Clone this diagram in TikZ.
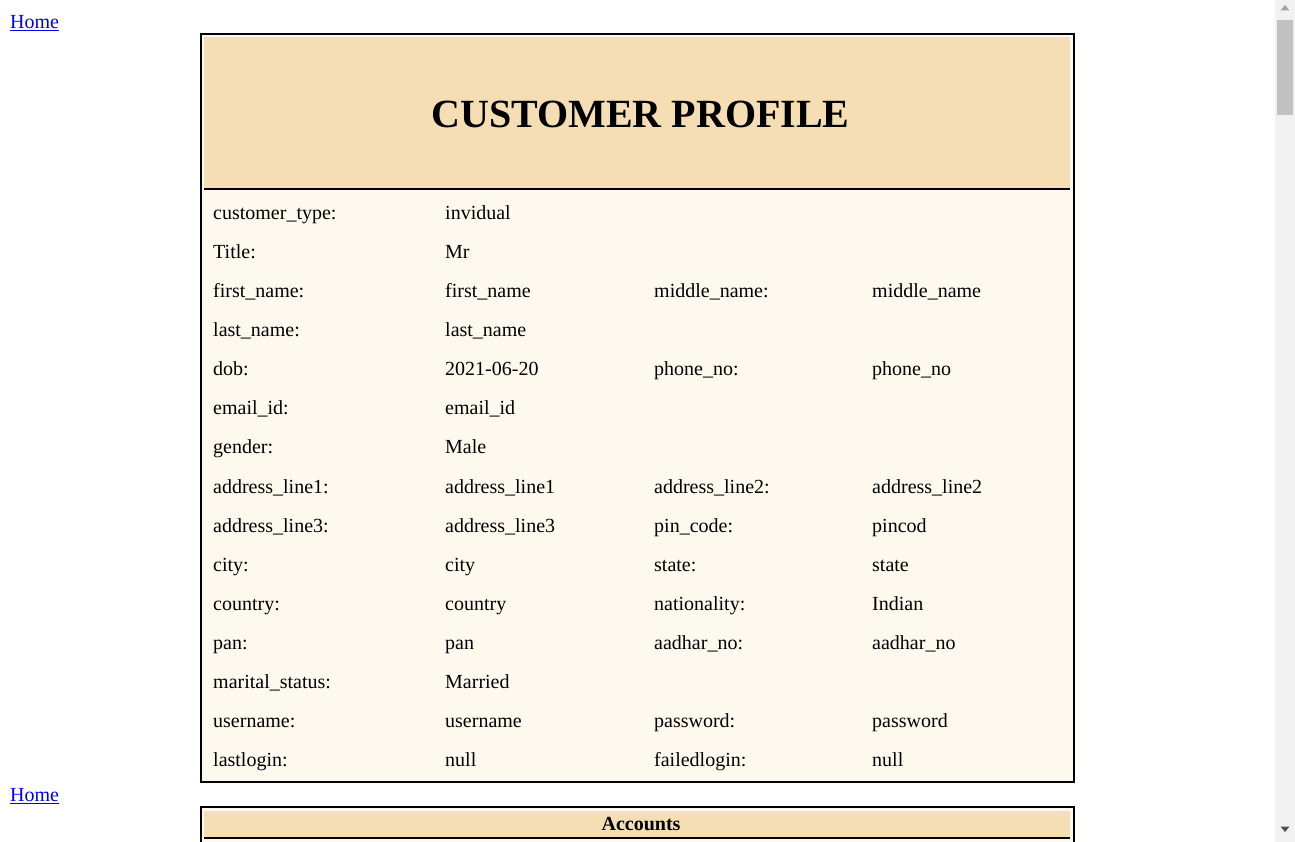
\documentclass[tikz,border=0pt]{standalone}
\usepackage{fontspec}
\setmainfont{Liberation Serif}
\definecolor{wheat}{HTML}{F5DEB3}
\definecolor{cream}{HTML}{FEF9EE}
\definecolor{linkblue}{HTML}{0000EE}
\definecolor{sbbg}{HTML}{F1F1F1}
\definecolor{sbthumb}{HTML}{C1C1C1}
\definecolor{sbarrowup}{HTML}{A3A3A3}
\definecolor{sbarrowdn}{HTML}{505050}
\tikzset{
  cell/.style={anchor=base west, inner sep=0pt, font=\fontsize{20}{24}\selectfont},
  link/.style={anchor=base west, inner sep=0pt, text=linkblue, font=\fontsize{20}{24}\selectfont},
  tblborder/.style={draw=black, line width=2pt},
  hdrline/.style={draw=black, line width=2pt},
}
\begin{document}
\begin{tikzpicture}[x=1pt,y=-1pt]
\useasboundingbox (0,0) rectangle (1295,842);
\fill[white] (0,0) rectangle (1295,842);
% scrollbar
\fill[sbbg] (1275,0) rectangle (1295,842);
\fill[sbthumb] (1277,20) rectangle (1293,115);
\fill[sbarrowup] (1285,5) -- (1289.5,10.5) -- (1280.5,10.5) -- cycle;
\fill[sbarrowdn] (1280.5,826.5) -- (1289.5,826.5) -- (1285,832) -- cycle;
% links
\node[link] (home1) at (10,28.5) {Home};
\draw[linkblue, line width=1.3pt] (home1.south west |- 0,30.5) -- (home1.south east |- 0,30.5);
\node[link] (home2) at (10,801.5) {Home};
\draw[linkblue, line width=1.3pt] (home2.south west |- 0,803.5) -- (home2.south east |- 0,803.5);
% main table
\fill[cream] (201,34) rectangle (1073.5,782);
\fill[wheat] (204,37.5) rectangle (1070,188.5);
\draw[hdrline] (204,189.5) -- (1070,189.5);
\draw[tblborder] (201,34) rectangle (1073.5,782);
\node[anchor=base, inner sep=0pt, font=\fontsize{40}{48}\selectfont\bfseries] (title) at (640.5,127.5) {CUSTOMER PROFILE};
% rows
\def\ca{213}\def\cb{445}\def\cc{654}\def\cd{872}
\node[cell] (l1) at (\ca,219.5) {customer\_type:};
\node[cell] (v1) at (\cb,219.5) {invidual};
\node[cell] (l2) at (\ca,258.5) {Title:};
\node[cell] (v2) at (\cb,258.5) {Mr};
\node[cell] (l3) at (\ca,297.5) {first\_name:};
\node[cell] (v3) at (\cb,297.5) {first\_name};
\node[cell] (l3b) at (\cc,297.5) {middle\_name:};
\node[cell] (v3b) at (\cd,297.5) {middle\_name};
\node[cell] (l4) at (\ca,336.5) {last\_name:};
\node[cell] (v4) at (\cb,336.5) {last\_name};
\node[cell] (l5) at (\ca,375.5) {dob:};
\node[cell] (v5) at (\cb,375.5) {2021-06-20};
\node[cell] (l5b) at (\cc,375.5) {phone\_no:};
\node[cell] (v5b) at (\cd,375.5) {phone\_no};
\node[cell] (l6) at (\ca,414.5) {email\_id:};
\node[cell] (v6) at (\cb,414.5) {email\_id};
\node[cell] (l7) at (\ca,453.5) {gender:};
\node[cell] (v7) at (\cb,453.5) {Male};
\node[cell] (l8) at (\ca,493) {address\_line1:};
\node[cell] (v8) at (\cb,493) {address\_line1};
\node[cell] (l8b) at (\cc,493) {address\_line2:};
\node[cell] (v8b) at (\cd,493) {address\_line2};
\node[cell] (l9) at (\ca,532) {address\_line3:};
\node[cell] (v9) at (\cb,532) {address\_line3};
\node[cell] (l9b) at (\cc,532) {pin\_code:};
\node[cell] (v9b) at (\cd,532) {pincod};
\node[cell] (l10) at (\ca,571) {city:};
\node[cell] (v10) at (\cb,571) {city};
\node[cell] (l10b) at (\cc,571) {state:};
\node[cell] (v10b) at (\cd,571) {state};
\node[cell] (l11) at (\ca,610) {country:};
\node[cell] (v11) at (\cb,610) {country};
\node[cell] (l11b) at (\cc,610) {nationality:};
\node[cell] (v11b) at (\cd,610) {Indian};
\node[cell] (l12) at (\ca,649) {pan:};
\node[cell] (v12) at (\cb,649) {pan};
\node[cell] (l12b) at (\cc,649) {aadhar\_no:};
\node[cell] (v12b) at (\cd,649) {aadhar\_no};
\node[cell] (l13) at (\ca,688) {marital\_status:};
\node[cell] (v13) at (\cb,688) {Married};
\node[cell] (l14) at (\ca,727) {username:};
\node[cell] (v14) at (\cb,727) {username};
\node[cell] (l14b) at (\cc,727) {password:};
\node[cell] (v14b) at (\cd,727) {password};
\node[cell] (l15) at (\ca,766.5) {lastlogin:};
\node[cell] (v15) at (\cb,766.5) {null};
\node[cell] (l15b) at (\cc,766.5) {failedlogin:};
\node[cell] (v15b) at (\cd,766.5) {null};
% accounts table
\fill[cream] (201,807) rectangle (1073.5,842);
\fill[wheat] (204,811) rectangle (1070,837);
\draw[hdrline] (204,838) -- (1070,838);
\draw[tblborder] (201,843) -- (201,807) -- (1073.5,807) -- (1073.5,843);
\node[anchor=base, inner sep=0pt, font=\fontsize{20}{24}\selectfont\bfseries] (acc) at (641,830.5) {Accounts};
\end{tikzpicture}
\end{document}
